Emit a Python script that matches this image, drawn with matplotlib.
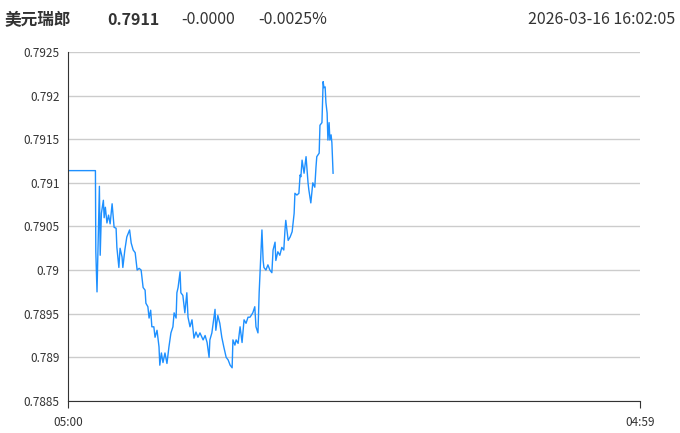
import matplotlib
matplotlib.use("Agg")
import matplotlib.pyplot as plt

plt.rcParams['font.family'] = ['Noto Sans CJK SC', 'DejaVu Sans']

# 分钟（自 05:00 起）与 美元瑞郎 报价
minutes = [0, 69, 70, 73, 79, 81, 84, 89, 91, 94, 98, 102, 106, 111, 116, 121, 123, 128, 131, 136,
           138, 143, 148, 155, 159, 164, 169, 174, 179, 184, 186, 189, 194, 196, 201, 204, 208, 211, 216, 219,
           224, 229, 231, 235, 239, 244, 249, 254, 259, 264, 267, 272, 274, 277, 282, 284, 289, 294, 299, 302,
           307, 312, 317, 322, 327, 332, 340, 345, 350, 355, 357, 362, 370, 372, 377, 382, 387, 392, 398, 403,
           408, 413, 415, 420, 423, 428, 433, 438, 443, 448, 453, 458, 465, 470, 473, 478, 481, 486, 488, 491,
           493, 498, 503, 508, 513, 516, 521, 523, 528, 533, 538, 543, 546, 548, 554, 559, 564, 569, 571, 576,
           581, 584, 586, 589, 594, 599, 604, 606, 611, 616, 621, 624, 626, 632, 634, 639, 642, 644, 647, 649,
           652, 654, 657, 659, 662, 664, 667]
prices = [0.79114, 0.79114, 0.79021, 0.78975, 0.79096, 0.79017, 0.79065, 0.79080, 0.79060, 0.79072,
          0.79054, 0.79063, 0.79053, 0.79076, 0.79049, 0.79048, 0.79026, 0.79003, 0.79025, 0.79015,
          0.79003, 0.79023, 0.79038, 0.79046, 0.79031, 0.79023, 0.79020, 0.79000, 0.79002, 0.79000,
          0.78992, 0.78980, 0.78977, 0.78962, 0.78958, 0.78945, 0.78954, 0.78935, 0.78935, 0.78923,
          0.78931, 0.78912, 0.78891, 0.78905, 0.78894, 0.78905, 0.78893, 0.78912, 0.78928, 0.78935,
          0.78951, 0.78945, 0.78974, 0.78980, 0.78998, 0.78974, 0.78971, 0.78951, 0.78974, 0.78946,
          0.78935, 0.78943, 0.78922, 0.78929, 0.78923, 0.78928, 0.78920, 0.78925, 0.78917, 0.78900,
          0.78920, 0.78928, 0.78955, 0.78931, 0.78948, 0.78939, 0.78923, 0.78912, 0.78900, 0.78897,
          0.78891, 0.78888, 0.78920, 0.78914, 0.78920, 0.78916, 0.78935, 0.78917, 0.78943, 0.78939,
          0.78946, 0.78946, 0.78951, 0.78958, 0.78935, 0.78928, 0.78974, 0.79026, 0.79046, 0.79011,
          0.79003, 0.79000, 0.79006, 0.79000, 0.78997, 0.79023, 0.79032, 0.79011, 0.79021, 0.79017,
          0.79026, 0.79023, 0.79046, 0.79057, 0.79034, 0.79038, 0.79044, 0.79065, 0.79088, 0.79086,
          0.79088, 0.79109, 0.79107, 0.79126, 0.79111, 0.79130, 0.79100, 0.79092, 0.79077, 0.79100,
          0.79095, 0.79118, 0.79130, 0.79134, 0.79166, 0.79169, 0.79216, 0.79209, 0.79210, 0.79192,
          0.79180, 0.79149, 0.79169, 0.79149, 0.79155, 0.79146, 0.79111]

y_ticks = [0.7885, 0.789, 0.7895, 0.79, 0.7905, 0.791, 0.7915, 0.792, 0.7925]
y_labels = ['0.7885', '0.789', '0.7895', '0.79', '0.7905', '0.791', '0.7915', '0.792', '0.7925']
x_ticks = [0, 1439]
x_labels = ['05:00', '04:59']

fig = plt.figure(figsize=(6.8, 4.33), dpi=100)
ax = fig.add_axes([0.1, 0.074, 0.841, 0.806])

ax.plot(minutes, prices, color='#1e90ff', lw=1)

ax.set_xlim(0, 1439)
ax.set_ylim(0.7885, 0.7925)
ax.set_yticks(y_ticks, y_labels)
ax.set_xticks(x_ticks, x_labels)
ax.grid(axis='y', color='#cccccc', lw=1)
ax.set_axisbelow(True)
for s in ['top', 'right']:
    ax.spines[s].set_visible(False)
for s in ['left', 'bottom']:
    ax.spines[s].set_color('#333333')
ax.tick_params(axis='y', length=0, pad=6, labelsize=8.5, labelcolor='#333333')
ax.tick_params(axis='x', length=5, color='#333333', pad=6, labelsize=8.5, labelcolor='#333333')

# 顶部标题行
fig.text(5 / 680, 1 - 20 / 433, '美元瑞郎', fontsize=12, fontweight='bold', color='#333333', va='center')
fig.text(107 / 680, 1 - 20 / 433, '0.7911', fontsize=11.5, fontweight='bold', color='#333333', va='center')
fig.text(181 / 680, 1 - 20 / 433, '-0.0000', fontsize=11.5, color='#333333', va='center')
fig.text(258 / 680, 1 - 20 / 433, '-0.0025%', fontsize=11.5, color='#333333', va='center')
fig.text(675 / 680, 1 - 20 / 433, '2026-03-16 16:02:05', fontsize=11.5, color='#333333', va='center', ha='right')

fig.savefig('out.png', dpi=100)
